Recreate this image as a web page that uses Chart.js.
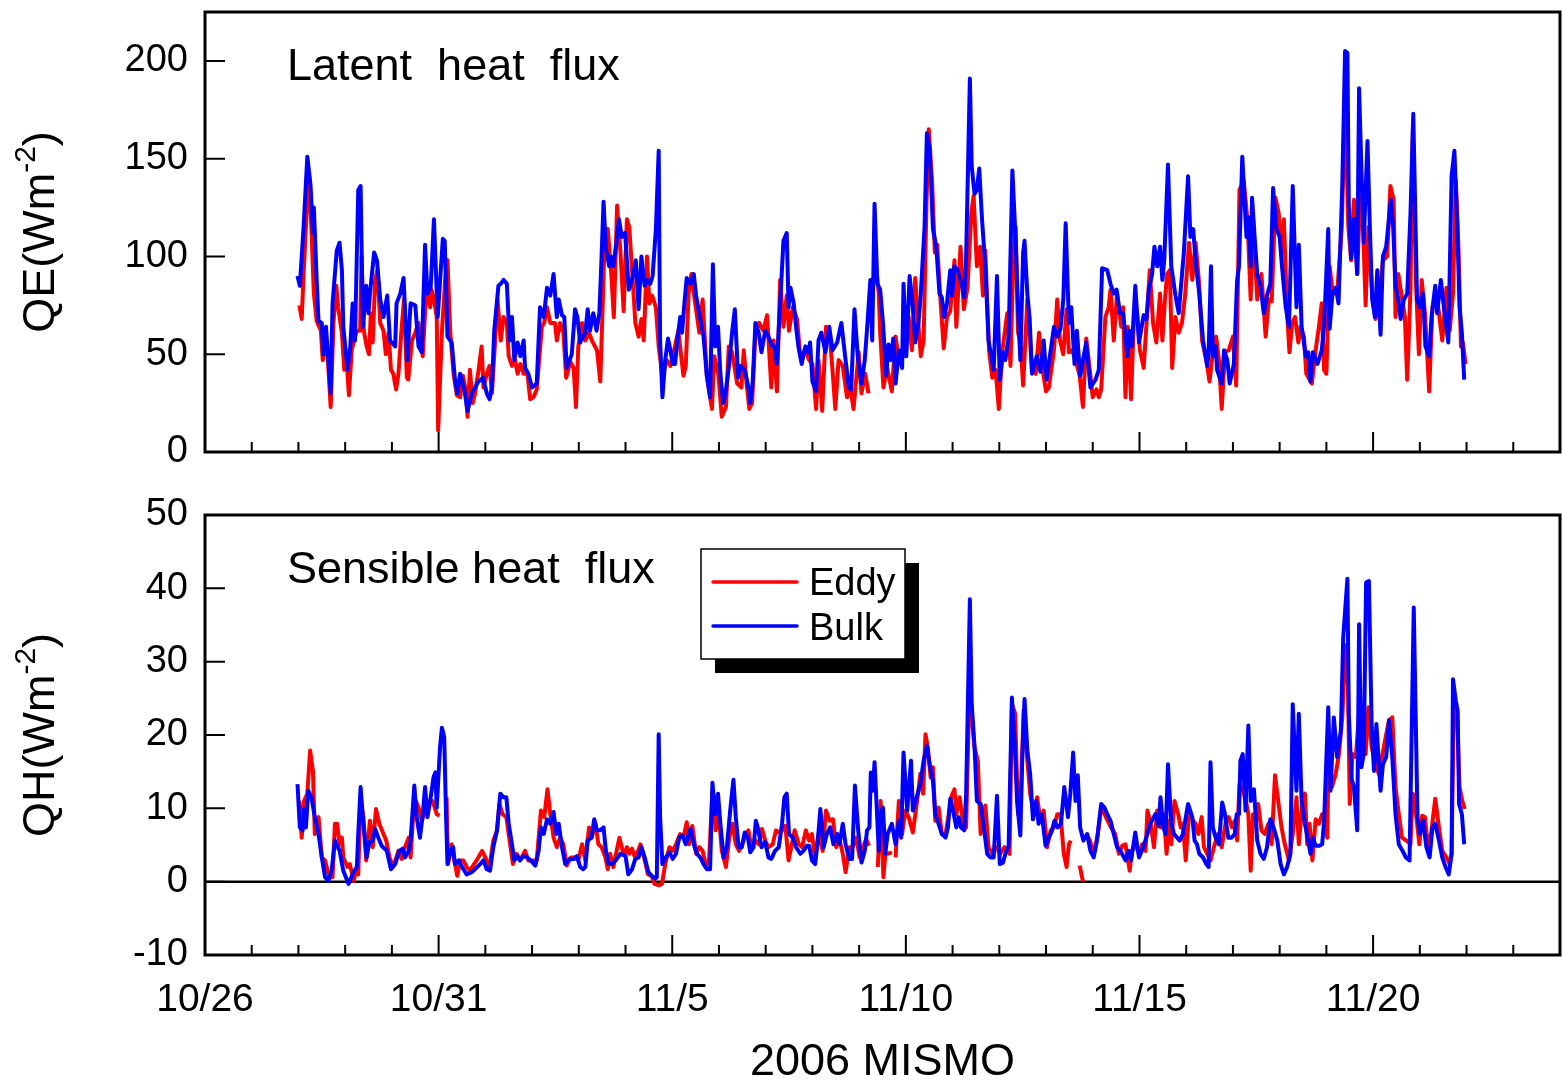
<!DOCTYPE html>
<html>
<head>
<meta charset="utf-8">
<script src="https://cdn.jsdelivr.net/npm/chart.js@4.4.1/dist/chart.umd.min.js"></script>
<style>
html, body { margin: 0; padding: 0; background: #fff; }
#wrap { position: relative; width: 1562px; height: 1088px; }
canvas { position: absolute; left: 0; }
#topChart { top: 0; }
#botChart { top: 470px; }
</style>
</head>
<body>
<div id="wrap">
<canvas id="topChart" width="1562" height="470"></canvas>
<canvas id="botChart" width="1562" height="618"></canvas>
</div>
<script>
// x = days since 10/26 00:00, y = flux (W m-2)
const dayLabels = { 0: '10/26', 5: '10/31', 10: '11/5', 15: '11/10', 20: '11/15', 25: '11/20' };

const qeBulk = [
 [1.98,90],[2.03,85],[2.11,115],[2.19,151],[2.26,136],[2.31,112],[2.33,125],[2.39,88],[2.43,67],[2.50,66],[2.53,50],[2.59,64],[2.69,30],[2.73,76],[2.82,103],[2.88,107],[2.93,93],[2.96,64],[3.05,42],[3.11,54],[3.16,76],[3.21,57],[3.28,134],[3.33,136],[3.38,64],[3.45,85],[3.50,71],[3.53,81],[3.62,102],[3.68,98],[3.75,78],[3.82,69],[3.90,80],[3.96,57],[4.07,54],[4.10,76],[4.18,81],[4.25,89],[4.33,47],[4.40,76],[4.50,75],[4.57,54],[4.64,51],[4.71,106],[4.76,81],[4.83,84],[4.90,119],[4.98,69],[5.09,109],[5.13,108],[5.19,59],[5.28,56],[5.35,37],[5.40,30],[5.46,40],[5.55,32],[5.62,21],[5.71,30],[5.78,33],[5.85,36],[5.95,38],[6.03,30],[6.09,27],[6.14,33],[6.19,62],[6.28,85],[6.33,86],[6.39,88],[6.46,86],[6.52,57],[6.57,69],[6.62,47],[6.69,56],[6.75,49],[6.82,57],[6.85,43],[6.92,40],[7.00,33],[7.10,35],[7.17,74],[7.25,69],[7.32,84],[7.39,80],[7.46,91],[7.53,69],[7.57,78],[7.64,70],[7.69,69],[7.74,43],[7.85,50],[7.92,73],[7.97,69],[8.03,56],
 [8.14,61],[8.19,73],[8.24,62],[8.31,71],[8.38,62],[8.44,71],[8.48,95],[8.53,128],[8.58,104],[8.65,95],[8.69,100],[8.74,95],[8.81,108],[8.86,119],[8.92,110],[8.99,112],[9.07,83],[9.14,88],[9.22,98],[9.28,73],[9.34,100],[9.41,85],[9.46,88],[9.53,86],[9.58,90],[9.65,114],[9.71,154],[9.74,57],[9.79,28],[9.85,47],[9.91,58],[9.96,52],[10.01,45],[10.06,45],[10.12,59],[10.17,69],[10.21,61],[10.26,76],[10.31,89],[10.39,86],[10.46,91],[10.51,80],[10.60,68],[10.67,59],[10.74,39],[10.81,28],[10.87,96],[10.92,54],[10.98,64],[11.03,40],[11.09,25],[11.14,30],[11.22,45],[11.28,61],[11.34,73],[11.41,38],[11.46,44],[11.55,42],[11.64,32],[11.67,25],[11.72,35],[11.78,66],[11.85,61],[11.91,51],[11.99,62],[12.06,59],[12.14,54],[12.19,54],[12.24,45],[12.31,76],[12.38,108],[12.45,112],[12.49,74],[12.53,84],[12.60,76],[12.65,64],[12.70,54],[12.77,45],[12.85,54],[12.91,51],[12.95,56],[13.00,36],[13.08,31],[13.13,57],[13.19,61],[13.28,51],[13.36,64],[13.43,52],[13.53,56],[13.62,66],[13.70,49],[13.78,33],[13.83,32],[13.90,73],[13.97,49],[14.05,35],[14.12,47],[14.17,63],[14.24,88],[14.28,57],[14.33,127],[14.39,86],
 [14.45,83],[14.51,66],[14.58,39],[14.63,55],[14.68,47],[14.73,58],[14.78,35],[14.85,52],[14.92,43],[14.95,86],[15.01,49],[15.08,90],[15.15,74],[15.20,56],[15.27,66],[15.32,81],[15.40,115],[15.45,163],[15.51,155],[15.58,114],[15.65,105],[15.72,81],[15.77,79],[15.82,69],[15.88,76],[15.95,93],[15.99,80],[16.04,95],[16.11,93],[16.20,85],[16.25,79],[16.29,100],[16.37,191],[16.41,146],[16.47,132],[16.52,134],[16.57,145],[16.63,119],[16.70,95],[16.77,57],[16.88,42],[16.95,90],[17.01,37],[17.08,51],[17.13,47],[17.20,59],[17.28,144],[17.35,108],[17.40,74],[17.45,47],[17.51,102],[17.54,108],[17.60,81],[17.65,68],[17.70,40],[17.80,49],[17.88,41],[17.95,57],[18.01,37],[18.10,52],[18.17,64],[18.24,59],[18.31,63],[18.37,78],[18.42,117],[18.49,66],[18.54,74],[18.61,45],[18.66,62],[18.73,39],[18.86,56],[18.95,33],[19.06,37],[19.13,42],[19.20,94],[19.31,93],[19.38,86],[19.45,81],[19.51,83],[19.58,71],[19.65,71],[19.74,49],[19.79,62],[19.84,54],[19.91,85],[19.99,56],[20.09,70],[20.15,68],[20.20,83],[20.27,91],[20.32,105],[20.38,95],[20.44,105],[20.49,88],[20.53,98],[20.61,147],[20.68,95],
 [20.77,80],[20.84,71],[20.95,102],[21.04,141],[21.09,110],[21.15,114],[21.21,95],[21.28,81],[21.36,57],[21.45,44],[21.48,51],[21.53,95],[21.57,49],[21.63,54],[21.66,42],[21.76,35],[21.81,52],[21.88,47],[21.93,35],[22.02,45],[22.09,88],[22.13,95],[22.20,151],[22.29,110],[22.34,120],[22.38,95],[22.41,130],[22.47,108],[22.52,91],[22.59,85],[22.66,71],[22.73,80],[22.80,86],[22.86,135],[22.93,114],[23.00,110],[23.05,95],[23.13,74],[23.20,64],[23.28,136],[23.36,74],[23.41,106],[23.47,64],[23.56,49],[23.61,51],[23.66,36],[23.71,51],[23.81,45],[23.90,52],[23.95,64],[24.04,114],[24.07,63],[24.13,81],[24.20,84],[24.26,76],[24.34,136],[24.40,205],[24.45,204],[24.48,126],[24.53,99],[24.59,119],[24.66,91],[24.70,186],[24.76,136],[24.80,107],[24.88,159],[24.93,115],[24.98,78],[25.04,69],[25.09,93],[25.16,60],[25.21,100],[25.28,105],[25.38,129],[25.43,115],[25.48,85],[25.54,78],[25.59,68],[25.66,78],[25.73,81],[25.80,122],[25.86,173],[25.94,78],[26.00,74],[26.07,81],[26.12,54],[26.20,49],[26.25,69],[26.33,85],[26.37,71],[26.45,88],[26.52,73],[26.61,56],[26.68,141],[26.74,154],[26.80,117],[26.85,74],[26.90,61],[26.95,37]
];

const qeEddy = [
 [2.02,75],[2.07,68],[2.11,91],[2.18,125],[2.23,141],[2.28,113],[2.33,81],[2.39,67],[2.48,62],[2.52,47],[2.61,57],[2.64,43],[2.69,23],[2.75,66],[2.81,85],[2.85,74],[2.93,61],[2.98,42],[3.03,47],[3.08,29],[3.14,52],[3.19,57],[3.25,62],[3.32,62],[3.35,100],[3.40,62],[3.46,54],[3.51,50],[3.55,71],[3.59,56],[3.64,88],[3.69,93],[3.75,66],[3.82,62],[3.87,50],[3.93,61],[3.98,42],[4.03,40],[4.09,32],[4.14,40],[4.21,64],[4.26,78],[4.32,38],[4.35,37],[4.43,57],[4.50,61],[4.57,66],[4.66,49],[4.71,71],[4.76,85],[4.82,74],[4.85,83],[4.90,78],[4.96,69],[4.99,11],[5.07,61],[5.14,88],[5.19,98],[5.25,61],[5.32,40],[5.39,29],[5.46,28],[5.52,39],[5.57,33],[5.62,18],[5.67,42],[5.73,25],[5.78,30],[5.85,41],[5.92,54],[5.96,33],[6.03,40],[6.09,44],[6.14,30],[6.21,57],[6.26,78],[6.33,57],[6.39,69],[6.46,66],[6.50,49],[6.57,44],[6.64,47],[6.69,40],[6.75,45],[6.82,40],[6.90,40],[6.96,27],[7.03,28],[7.10,32],[7.21,64],[7.26,66],[7.32,74],[7.39,66],[7.49,66],[7.53,57],[7.60,66],[7.67,61],[7.73,38],[7.82,46],[7.89,43],[7.94,23],[7.99,54],[8.07,66],
 [8.14,57],[8.22,61],[8.28,57],[8.39,52],[8.46,36],[8.51,74],[8.55,105],[8.62,114],[8.69,93],[8.75,69],[8.82,126],[8.89,103],[8.96,72],[9.03,119],[9.08,115],[9.14,93],[9.21,66],[9.28,59],[9.34,68],[9.39,57],[9.46,100],[9.51,76],[9.57,80],[9.65,74],[9.71,54],[9.79,39],[9.88,47],[9.96,44],[10.03,51],[10.13,62],[10.24,39],[10.29,44],[10.35,81],[10.41,91],[10.48,78],[10.58,61],[10.65,78],[10.74,39],[10.85,22],[10.90,49],[10.99,39],[11.06,18],[11.15,23],[11.21,54],[11.28,51],[11.39,35],[11.48,33],[11.53,52],[11.60,33],[11.65,22],[11.71,25],[11.78,61],[11.86,66],[11.95,62],[12.03,70],[12.12,33],[12.17,57],[12.24,31],[12.31,88],[12.38,64],[12.45,80],[12.50,62],[12.58,74],[12.67,68],[12.74,49],[12.85,52],[12.93,47],[13.00,45],[13.08,22],[13.13,47],[13.21,21],[13.29,64],[13.38,57],[13.43,42],[13.49,22],[13.56,47],[13.65,44],[13.74,28],[13.81,33],[13.88,22],[13.99,51],[14.05,30],[14.13,40],[14.20,30],[14.27,null],[14.35,98],[14.42,81],
 [14.45,61],[14.52,33],[14.60,43],[14.70,31],[14.78,59],[14.85,47],[14.92,52],[14.99,49],[15.06,69],[15.13,52],[15.20,89],[15.26,68],[15.32,49],[15.38,57],[15.44,126],[15.49,165],[15.56,139],[15.62,102],[15.67,106],[15.74,78],[15.81,53],[15.88,69],[15.95,72],[16.04,98],[16.08,64],[16.17,105],[16.24,73],[16.32,84],[16.40,122],[16.45,131],[16.52,95],[16.59,105],[16.65,80],[16.70,103],[16.78,52],[16.85,38],[16.92,42],[16.99,22],[17.06,51],[17.17,71],[17.24,44],[17.30,100],[17.35,115],[17.40,61],[17.45,57],[17.51,34],[17.60,78],[17.70,42],[17.78,40],[17.85,61],[17.94,40],[18.00,31],[18.06,33],[18.17,52],[18.24,78],[18.30,57],[18.37,50],[18.44,73],[18.49,51],[18.56,52],[18.63,47],[18.72,39],[18.79,23],[18.86,58],[18.95,39],[19.00,28],[19.08,32],[19.13,28],[19.18,32],[19.27,69],[19.34,74],[19.38,83],[19.45,57],[19.52,81],[19.61,64],[19.65,74],[19.70,28],[19.75,64],[19.82,27],[19.88,68],[19.95,71],[20.01,52],[20.09,43],[20.17,73],[20.22,93],[20.29,66],[20.36,56],[20.44,81],[20.49,57],[20.54,76],[20.59,91],[20.65,93],[20.70,43],
 [20.77,69],[20.84,61],[20.91,66],[20.98,81],[21.06,107],[21.13,88],[21.20,107],[21.27,88],[21.34,57],[21.43,47],[21.50,36],[21.56,49],[21.64,59],[21.70,47],[21.76,22],[21.83,51],[21.91,52],[22.00,59],[22.07,34],[22.14,134],[22.23,139],[22.31,119],[22.38,78],[22.43,119],[22.52,78],[22.61,91],[22.70,59],[22.77,78],[22.83,77],[22.91,130],[22.98,122],[23.04,102],[23.09,119],[23.16,71],[23.21,51],[23.27,66],[23.33,69],[23.40,56],[23.45,64],[23.52,59],[23.57,40],[23.64,37],[23.69,35],[23.77,52],[23.84,64],[23.90,76],[23.95,42],[24.00,40],[24.07,95],[24.14,81],[24.23,81],[24.33,115],[24.40,180],[24.47,115],[24.53,98],[24.59,129],[24.66,91],[24.73,136],[24.79,112],[24.84,75],[24.90,115],[24.98,81],[25.05,68],[25.12,76],[25.21,98],[25.30,100],[25.37,136],[25.44,129],[25.48,69],[25.54,91],[25.61,80],[25.68,69],[25.73,37],[25.80,83],[25.85,165],[25.92,85],[25.98,50],[26.04,88],[26.11,71],[26.20,31],[26.27,74],[26.35,81],[26.41,71],[26.48,57],[26.57,84],[26.64,62],[26.71,81],[26.77,139],[26.83,102],[26.88,54],[26.92,56],[26.98,45]
];

const qhBulk = [
 [1.98,13.3],[2.03,7.4],[2.09,7],[2.12,9.9],[2.16,7.4],[2.21,12.4],[2.28,11.5],[2.35,8.8],[2.43,6.5],[2.50,3.3],[2.57,0.6],[2.64,0.1],[2.71,1.5],[2.78,5.6],[2.88,4.2],[2.96,1.5],[3.07,-0.3],[3.18,1.3],[3.25,2],[3.28,6.5],[3.33,12.9],[3.39,7.9],[3.46,3.3],[3.52,5.4],[3.59,5.6],[3.64,7.2],[3.71,6],[3.78,4.9],[3.89,4.2],[3.98,1.7],[4.07,2.4],[4.16,4.2],[4.23,4.5],[4.28,3.3],[4.36,4.2],[4.40,5.6],[4.48,13.1],[4.53,8.8],[4.60,6],[4.66,9.1],[4.71,12.9],[4.76,8.8],[4.82,11],[4.89,14.2],[4.93,14.9],[4.96,10.1],[5.03,18.3],[5.07,21],[5.12,19.7],[5.16,8.8],[5.19,2.4],[5.25,4.2],[5.31,4.7],[5.35,2.4],[5.43,2.9],[5.50,2],[5.60,1],[5.71,1.3],[5.78,1.7],[5.89,2.4],[5.96,2.9],[6.03,1.7],[6.10,1.5],[6.17,4.7],[6.25,7],[6.32,12],[6.39,11.5],[6.45,11.5],[6.50,7.9],[6.57,5.1],[6.62,2.9],[6.69,3.5],[6.74,2.9],[6.82,3.5],[6.90,3.3],[6.97,2.9],[7.07,2.2],[7.14,4.2],[7.19,7.4],[7.25,6.5],[7.32,8.5],[7.39,7.9],[7.46,9.5],[7.52,6.5],[7.57,7.9],[7.64,4.7],[7.71,2.4],[7.80,3.1],[7.89,3.1],[7.96,3.5],[8.03,2],[8.09,1.7],
 [8.14,2],[8.19,5.6],[8.27,6],[8.33,8.5],[8.39,7],[8.46,7],[8.53,7.4],[8.58,4.2],[8.64,2.4],[8.71,2.4],[8.79,2.9],[8.89,3.8],[9.00,3.5],[9.06,1],[9.14,1.7],[9.21,3.1],[9.28,3.3],[9.34,4.7],[9.41,3.3],[9.49,1.3],[9.56,0.8],[9.64,0.4],[9.67,0.6],[9.71,20.1],[9.74,8.8],[9.79,2.4],[9.86,3.3],[9.94,4],[10.01,3.1],[10.08,3.8],[10.15,6],[10.22,6.3],[10.29,5.1],[10.39,7.2],[10.46,5.1],[10.53,3.8],[10.60,3.3],[10.67,2.4],[10.74,1.7],[10.81,1.7],[10.86,13.5],[10.92,9.2],[10.98,12],[11.03,7.9],[11.10,3.3],[11.17,4.7],[11.24,9.7],[11.31,13.9],[11.36,8.8],[11.42,4.7],[11.49,4.7],[11.55,6.7],[11.62,6],[11.67,4],[11.74,4.7],[11.79,8.3],[11.83,7.4],[11.91,4.7],[11.99,5.4],[12.06,3.3],[12.12,3.1],[12.20,4.2],[12.28,4.7],[12.35,7.9],[12.40,11.5],[12.45,12],[12.50,6.5],[12.58,6],[12.65,4.7],[12.74,3.8],[12.81,4.2],[12.88,4.9],[12.93,4.9],[12.99,2.9],[13.06,2.4],[13.12,6],[13.17,9.9],[13.24,4.7],[13.31,6.5],[13.38,7.4],[13.45,5.1],[13.53,6.5],[13.58,5.1],[13.65,7.9],[13.71,5.1],[13.79,3.1],[13.85,3.1],[13.91,13.1],[13.98,7],[14.05,2.6],[14.12,4.2],[14.17,7],[14.22,7.4],[14.25,14.9],[14.29,12.4],[14.33,16.3],[14.37,11],[14.42,4.2],
 [14.45,9.2],[14.51,10.1],[14.56,3.8],[14.61,6.5],[14.70,7.9],[14.78,5.1],[14.85,8.3],[14.90,6],[14.95,17.6],[15.03,9.7],[15.11,16.5],[15.15,9.7],[15.23,11.5],[15.31,13.3],[15.38,16.5],[15.45,18.5],[15.52,15.6],[15.58,13.8],[15.63,9.2],[15.70,7.9],[15.77,6.5],[15.85,6],[15.90,7.4],[15.95,11.3],[16.01,9.7],[16.08,7.4],[16.13,8.8],[16.18,7.4],[16.25,7],[16.29,12],[16.37,38.5],[16.41,24.2],[16.47,18.3],[16.52,11],[16.60,10.6],[16.67,7.4],[16.74,3.8],[16.81,3.3],[16.88,3.3],[16.95,11.7],[17.01,2.4],[17.08,2.6],[17.13,3.8],[17.20,4.9],[17.27,25.1],[17.32,20.1],[17.38,11],[17.45,6.3],[17.49,16.5],[17.54,24.9],[17.60,17.9],[17.66,14.7],[17.72,8.5],[17.79,11],[17.84,7.9],[17.91,9.2],[17.99,4.9],[18.06,6],[18.13,7],[18.18,8.3],[18.25,7.4],[18.32,7.9],[18.39,12.9],[18.47,8.8],[18.52,12],[18.58,17.6],[18.63,11],[18.68,14.5],[18.73,7.4],[18.80,5.6],[18.88,6.5],[18.95,4.2],[19.02,3.3],[19.09,5.6],[19.18,10.6],[19.25,10.1],[19.31,9.2],[19.38,8.3],[19.45,6.5],[19.52,4.7],[19.61,4],[19.70,2.9],[19.77,4.2],[19.82,2.9],[19.91,6.7],[19.99,3.3],[20.08,4.7],[20.17,6.5],[20.23,7.9],[20.34,9.2],[20.41,7.6],[20.45,11.5],[20.51,7.4],[20.56,6.5],[20.61,16],[20.68,7.9],[20.74,6.5],
 [20.86,5.6],[20.93,6.5],[21.04,10.6],[21.13,8.8],[21.18,5.6],[21.23,5.1],[21.28,3.8],[21.36,3.3],[21.43,2.4],[21.48,2],[21.52,16.3],[21.57,7.4],[21.63,6],[21.70,5.1],[21.77,10.8],[21.83,9.2],[21.90,6],[21.97,6],[22.04,6.5],[22.08,9.2],[22.13,9.2],[22.16,16.5],[22.21,17.4],[22.27,9.7],[22.33,21.3],[22.38,11],[22.45,12.6],[22.52,5.6],[22.59,3.8],[22.66,3.1],[22.73,4.7],[22.80,8.5],[22.87,7.4],[22.95,5.6],[23.02,2.4],[23.09,1],[23.16,2],[23.23,3.8],[23.28,24.2],[23.36,12.4],[23.41,22.9],[23.47,11],[23.54,7.9],[23.61,5.6],[23.66,3.8],[23.71,6],[23.77,4.9],[23.85,4.9],[23.91,5.1],[23.95,8.1],[24.04,23.8],[24.09,12.4],[24.16,22.4],[24.23,17],[24.31,20.6],[24.36,33.3],[24.45,41.3],[24.48,22.9],[24.54,14],[24.59,12.9],[24.66,7],[24.70,35.1],[24.75,15.6],[24.80,17.4],[24.85,40.8],[24.91,41],[24.97,21],[25.02,15.1],[25.07,21.5],[25.16,12.4],[25.21,16],[25.28,17],[25.34,22],[25.41,17],[25.48,9.2],[25.55,5.1],[25.63,4.2],[25.70,3.3],[25.78,2.9],[25.87,37.4],[25.95,8.8],[26.00,6.5],[26.07,8.3],[26.14,4.7],[26.21,3.3],[26.27,7.4],[26.33,7.9],[26.41,5.6],[26.48,3.3],[26.55,2],[26.62,1],[26.68,3.8],[26.71,27.6],[26.77,24.7],[26.81,23.3],[26.84,10.6],[26.90,9.2],[26.95,5.1]
];

const qhEddy = [
 [2.02,11],[2.07,6],[2.12,11],[2.19,12],[2.25,17.9],[2.31,15.1],[2.35,6.5],[2.43,8.8],[2.50,3.3],[2.57,2.9],[2.66,0.6],[2.73,0.6],[2.78,7.9],[2.83,7.9],[2.88,5.1],[2.93,6],[2.96,3.3],[3.05,2],[3.10,2.4],[3.18,0.1],[3.23,1.3],[3.28,1],[3.33,11],[3.39,8.8],[3.45,2.9],[3.53,8.3],[3.59,4.7],[3.66,9.9],[3.73,7.9],[3.82,6.5],[3.88,5.6],[3.95,3.3],[4.03,2],[4.14,4.2],[4.21,3.1],[4.28,4.7],[4.36,6],[4.40,3.3],[4.48,11.5],[4.57,10.1],[4.64,8.3],[4.71,9.7],[4.78,11],[4.87,11],[4.96,9.2],[5.02,9],[5.08,null],[5.17,11.5],[5.20,2.4],[5.28,5.1],[5.35,2.4],[5.40,0.8],[5.46,2.9],[5.53,2.9],[5.60,2],[5.67,1.5],[5.76,2.4],[5.85,3.3],[5.93,4.2],[6.00,3.3],[6.09,2],[6.17,5.6],[6.25,7],[6.30,10.6],[6.37,9.2],[6.45,8.8],[6.52,5.6],[6.59,2.4],[6.67,3.8],[6.74,2.9],[6.85,4.2],[6.92,2.9],[7.02,2.9],[7.10,2.9],[7.19,9.7],[7.26,8.8],[7.33,12.6],[7.39,9.2],[7.46,6],[7.53,4.7],[7.60,6],[7.67,5.1],[7.74,2.2],[7.83,3.3],[7.92,3.3],[7.99,2.9],[8.07,5.1],
 [8.14,2.9],[8.22,7.4],[8.28,6],[8.35,8.1],[8.42,5.1],[8.49,4.7],[8.57,3.3],[8.62,1.7],[8.67,3.8],[8.74,2],[8.81,4.2],[8.87,6],[8.94,4.2],[8.98,3.8],[9.03,4.7],[9.08,3.8],[9.14,4.5],[9.19,3.5],[9.27,4.2],[9.32,5.1],[9.39,3.5],[9.48,1],[9.56,0.8],[9.62,-0.3],[9.72,-0.5],[9.78,-0.3],[9.85,2.4],[9.94,4.7],[10.01,4.2],[10.08,5.1],[10.17,6.5],[10.24,6],[10.31,8.1],[10.36,5.1],[10.43,7.6],[10.51,3.8],[10.58,4.7],[10.65,4.2],[10.72,2.2],[10.79,3.1],[10.86,12.4],[10.93,7],[10.99,9.7],[11.06,4.2],[11.15,2],[11.22,6],[11.29,7.9],[11.36,5.1],[11.43,4.2],[11.50,5.1],[11.56,6.3],[11.63,7],[11.69,4.7],[11.78,5.6],[11.85,5.1],[11.92,7.2],[11.99,5.6],[12.06,4.7],[12.15,5.1],[12.22,7],[12.28,6.7],[12.35,7],[12.42,7.6],[12.49,2.9],[12.56,5.1],[12.62,7],[12.71,5.1],[12.78,4.7],[12.86,7],[12.93,5.6],[12.99,6.5],[13.06,3.1],[13.13,6.5],[13.22,4.2],[13.29,9.7],[13.37,8.3],[13.44,8.5],[13.51,4.7],[13.57,6],[13.65,3.8],[13.71,1.3],[13.79,4.7],[13.86,4.7],[13.94,6],[14.01,3.3],[14.08,4.7],[14.15,5.8],[14.21,4.9],[14.30,null],[14.40,2],[14.46,11],[14.52,0.6],
 [14.56,3.8],[14.61,3.8],[14.70,4],[14.74,null],[14.78,3.3],[14.85,11],[14.92,6.5],[14.99,9.7],[15.06,8.8],[15.15,6.7],[15.24,11],[15.31,14.7],[15.37,12],[15.42,20.1],[15.47,18.3],[15.53,14.2],[15.58,15.6],[15.63,8.3],[15.70,10.1],[15.77,6.5],[15.85,6.5],[15.92,9.2],[15.97,11.5],[16.04,12.6],[16.08,9.2],[16.15,11.5],[16.23,7.9],[16.29,7.4],[16.36,26],[16.47,18.3],[16.54,16.5],[16.60,6.5],[16.70,10.4],[16.77,4.7],[16.85,3.8],[16.94,4.7],[17.02,3.8],[17.11,4.7],[17.22,3.8],[17.27,24.2],[17.34,22.9],[17.40,9.2],[17.45,9.7],[17.52,23.4],[17.60,16.5],[17.66,12],[17.74,9.2],[17.81,11.5],[17.88,8.3],[17.95,9.7],[18.02,4.7],[18.10,7],[18.17,7.4],[18.24,9.2],[18.31,9.2],[18.38,3.8],[18.44,2],[18.49,5.1],[18.53,5.6],[18.62,null],[18.72,2.2],[18.79,0],[18.82,null],[18.86,6.5],[18.94,5.6],[19.02,3.8],[19.11,6.5],[19.18,10.1],[19.25,9.2],[19.32,8.3],[19.39,7.4],[19.48,6.5],[19.56,3.8],[19.63,4.9],[19.70,5.1],[19.79,1.5],[19.84,4.2],[19.91,5.1],[19.99,3.8],[20.06,5.1],[20.13,4.2],[20.17,9.7],[20.24,7.9],[20.31,4.7],[20.38,9.7],[20.45,7.4],[20.52,9.2],[20.58,3.8],[20.63,8.3],[20.68,5.1],[20.75,11],
 [20.83,9.2],[20.88,7.4],[20.93,7.9],[20.99,2.9],[21.06,9.2],[21.13,8.5],[21.20,7.9],[21.26,6.5],[21.33,8.8],[21.38,4.7],[21.45,3.8],[21.52,2.9],[21.61,5.1],[21.68,6.5],[21.76,4.7],[21.84,7.9],[21.91,8.8],[21.98,7.4],[22.04,8.3],[22.09,5.6],[22.14,13.3],[22.21,12.4],[22.28,11],[22.33,9.2],[22.38,1.5],[22.43,9.2],[22.50,8.3],[22.54,10.6],[22.61,7],[22.68,6.5],[22.76,7.9],[22.83,5.1],[22.90,14.5],[22.97,11],[23.04,7.4],[23.11,5.1],[23.20,2.9],[23.28,6.5],[23.36,11.5],[23.41,5.1],[23.49,11],[23.54,12],[23.59,5.1],[23.64,7.9],[23.70,2.9],[23.77,8.5],[23.84,7.9],[23.91,9.2],[23.97,8.3],[24.02,6],[24.05,18.8],[24.12,12.9],[24.20,14.7],[24.27,17.4],[24.34,22.4],[24.41,32],[24.45,32.4],[24.50,10.6],[24.56,17.4],[24.63,17],[24.70,22.9],[24.77,19.2],[24.84,17.4],[24.90,23.8],[24.97,18.3],[25.04,16.5],[25.12,14.7],[25.19,17],[25.28,20.1],[25.34,22],[25.41,22.4],[25.48,12.9],[25.55,9.2],[25.62,6],[25.71,5.6],[25.80,5.1],[25.85,12],[25.92,9.2],[25.99,5.1],[26.05,9],[26.11,8.8],[26.18,4.2],[26.25,7],[26.33,11.3],[26.41,7.4],[26.48,4.2],[26.57,3.3],[26.64,2.4],[26.68,3.8],[26.73,25.6],[26.80,22],[26.85,12.9],[26.91,11],[26.96,9.9]
];

const FONT = '"Liberation Sans", Arial, Helvetica, sans-serif';
Chart.defaults.font.family = FONT;
Chart.defaults.color = '#000';

function toXY(arr) {
    return arr.map(p => ({ x: p[0], y: p[1] }));
}

// stop Chart.js from reserving room for label overhang, so both plot frames line up
function fixBox(s, w, h) {
    if (w != null) s.width = w;
    if (h != null) s.height = h;
    s.paddingTop = 0; s.paddingBottom = 0; s.paddingLeft = 0; s.paddingRight = 0;
}

function drawYTitle(ctx, name, bx, cy) {
    const big = '45px ' + FONT, small = '30px ' + FONT;
    const a = name + '(Wm', s = '-2', c = ')';
    ctx.font = big;
    const wa = ctx.measureText(a).width, wc = ctx.measureText(c).width;
    ctx.font = small;
    const ws = ctx.measureText(s).width;
    const x0 = -(wa + ws + wc) / 2;
    ctx.save();
    ctx.translate(bx, cy);
    ctx.rotate(-Math.PI / 2);
    ctx.textAlign = 'left';
    ctx.textBaseline = 'alphabetic';
    ctx.font = big;
    ctx.fillText(a, x0, 0);
    ctx.font = small;
    ctx.fillText(s, x0 + wa, -19);
    ctx.font = big;
    ctx.fillText(c, x0 + wa + ws, 0);
    ctx.restore();
}

function drawLegend(ctx) {
    // box with a solid drop shadow, like the original
    ctx.fillStyle = '#000';
    ctx.fillRect(715, 93, 204, 110);
    ctx.fillStyle = '#fff';
    ctx.fillRect(701, 79, 204, 110);
    ctx.strokeStyle = '#000';
    ctx.lineWidth = 1.5;
    ctx.strokeRect(701, 79, 204, 110);
    ctx.lineWidth = 3.5;
    ctx.lineCap = 'round';
    ctx.strokeStyle = '#ff0000';
    ctx.beginPath(); ctx.moveTo(713, 112); ctx.lineTo(797, 112); ctx.stroke();
    ctx.strokeStyle = '#0000ff';
    ctx.beginPath(); ctx.moveTo(713, 156); ctx.lineTo(797, 156); ctx.stroke();
    ctx.fillStyle = '#000';
    ctx.font = '38px ' + FONT;
    ctx.textAlign = 'left';
    ctx.textBaseline = 'alphabetic';
    ctx.fillText('Eddy', 809, 125);
    ctx.fillText('Bulk', 809, 170);
}

const decoPlugin = {
    id: 'deco',
    beforeDatasetsDraw(chart, args, o) {
        if (!o.zero) return;
        const { ctx, chartArea: a, scales: { y } } = chart;
        const py = y.getPixelForValue(0);
        ctx.save();
        ctx.strokeStyle = '#000';
        ctx.lineWidth = 2.5;
        ctx.beginPath(); ctx.moveTo(a.left, py); ctx.lineTo(a.right, py); ctx.stroke();
        ctx.restore();
    },
    afterDraw(chart, args, o) {
        const { ctx, chartArea: a, scales: { x, y } } = chart;
        ctx.save();
        ctx.strokeStyle = '#000';
        ctx.lineWidth = 2;
        ctx.beginPath();
        x.ticks.forEach(t => {
            const px = x.getPixelForValue(t.value);
            const len = t.value % 5 === 0 ? 20 : 10;
            ctx.moveTo(px, a.bottom); ctx.lineTo(px, a.bottom - len);
        });
        y.ticks.forEach(t => {
            const py = y.getPixelForValue(t.value);
            const len = t.label === '' ? 10 : 20;
            ctx.moveTo(a.left, py); ctx.lineTo(a.left + len, py);
        });
        ctx.stroke();
        ctx.lineWidth = 3;
        ctx.strokeRect(a.left, a.top, a.right - a.left, a.bottom - a.top);

        ctx.fillStyle = '#000';
        ctx.font = '45px ' + FONT;
        ctx.textAlign = 'left';
        ctx.textBaseline = 'alphabetic';
        ctx.fillText(o.title, 287, a.top + 68);
        drawYTitle(ctx, o.yName, 54, (a.top + a.bottom) / 2);
        if (o.xTitle) {
            ctx.font = '45px ' + FONT;
            ctx.textAlign = 'center';
            ctx.fillText(o.xTitle, (a.left + a.right) / 2, o.xTitleY);
        }
        if (o.legend) drawLegend(ctx);
        ctx.restore();
    }
};

function makeChart(id, bulk, eddy, yr, opts) {
    return new Chart(document.getElementById(id), {
        type: 'line',
        data: {
            datasets: [
                { label: 'Bulk', data: toXY(bulk), borderColor: '#0000ff', borderWidth: 4,
                  pointRadius: 0, tension: 0, spanGaps: false, borderJoinStyle: 'round' },
                { label: 'Eddy', data: toXY(eddy), borderColor: '#ff0000', borderWidth: 4,
                  pointRadius: 0, tension: 0, spanGaps: false, borderJoinStyle: 'round' }
            ]
        },
        options: {
            responsive: false,
            animation: false,
            layout: { padding: { top: opts.top, right: 2, left: 0, bottom: 0 } },
            scales: {
                x: {
                    type: 'linear', min: 0, max: 29,
                    border: { display: false },
                    grid: { display: false, drawTicks: false },
                    ticks: {
                        display: opts.xLabels, stepSize: 1, autoSkip: false, maxRotation: 0,
                        font: { size: 39 }, color: '#000', padding: 22,
                        callback: v => dayLabels[v] || ''
                    },
                    afterFit: s => fixBox(s, null, opts.xHeight)
                },
                y: {
                    min: yr.min, max: yr.max,
                    border: { display: false },
                    grid: { display: false, drawTicks: false },
                    ticks: {
                        stepSize: yr.step, font: { size: 38 }, color: '#000', padding: 17,
                        callback: v => (v % yr.major === 0 ? v : '')
                    },
                    afterFit: s => fixBox(s, 205, null)
                }
            },
            plugins: {
                legend: { display: false },
                tooltip: { enabled: false },
                deco: opts.deco
            }
        },
        plugins: [decoPlugin]
    });
}

makeChart('topChart', qeBulk, qeEddy, { min: 0, max: 225, step: 25, major: 50 }, {
    top: 12, xHeight: 18, xLabels: false,
    deco: { title: 'Latent  heat  flux', yName: 'QE', zero: false, legend: false }
});

makeChart('botChart', qhBulk, qhEddy, { min: -10, max: 50, step: 5, major: 10 }, {
    top: 45, xHeight: 133, xLabels: true,
    deco: { title: 'Sensible heat  flux', yName: 'QH', zero: true, legend: true,
            xTitle: '2006 MISMO', xTitleY: 605 }
});
</script>
</body>
</html>
